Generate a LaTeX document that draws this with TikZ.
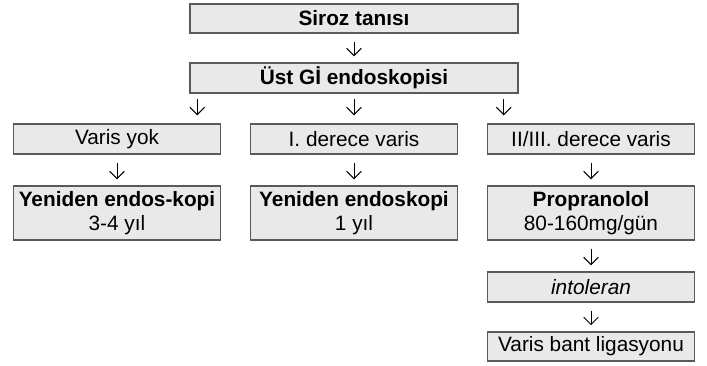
\documentclass[tikz,border=0pt]{standalone}
\usepackage{fontspec}
\setmainfont{Liberation Sans}
\usetikzlibrary{arrows.meta,calc}
\definecolor{boxfill}{RGB}{233,233,233}
\definecolor{boxline}{RGB}{90,90,90}
\begin{document}
\begin{tikzpicture}[x=0.75pt,y=-0.75pt,
  box/.style={draw=boxline,line width=1.1pt,fill=boxfill,inner sep=0pt,
    align=center,font=\fontsize{15.6}{18}\selectfont,text=black},
  wide/.style={box,minimum width=246pt,minimum height=22pt},
  col/.style={box,minimum width=155pt,minimum height=22.5pt},
  tall/.style={box,minimum width=155pt,minimum height=40.5pt},
  arr/.style={line width=0.7pt,-{Straight Barb[length=5.5pt,width=11pt]},
    shorten <=6pt,shorten >=4.5pt}]
\useasboundingbox (0,0) rectangle (707,365);
\node[wide] (siroz) at (354,18.5) {\textbf{Siroz tanısı}};
\node[wide,minimum height=22.5pt] (ust) at (354,78) {\textbf{Üst Gİ endoskopisi}};
\node[col] (r2a) at (117,139) {Varis yok};
\node[col] (r2b) at (354,139) {I. derece varis};
\node[col] (r2c) at (591,139) {II/III. derece varis};
\node[tall] (r3a) at (117,213) {\textbf{Yeniden endos-kopi}\\3-4 yıl};
\node[tall] (r3b) at (354,213) {\textbf{Yeniden endoskopi}\\1 yıl};
\node[tall] (r3c) at (591,213) {\textbf{Propranolol}\\80-160mg/gün};
\node[col] (intol) at (591,287) {\textit{intoleran}};
\node[col,minimum height=22pt] (bant) at (591,346.5) {Varis bant ligasyonu};
\draw[arr] (siroz) -- (ust);
\draw[arr,shorten <=4pt,shorten >=6pt] ([xshift=6pt]ust.south west) -- ([xshift=6pt]ust.south west |- r2a.north);
\draw[arr,shorten <=4pt,shorten >=6pt] (ust) -- (r2b);
\draw[arr,shorten <=4pt,shorten >=6pt] ([xshift=-11.25pt]ust.south east) -- ([xshift=-11.25pt]ust.south east |- r2c.north);
\draw[arr] (r2a) -- (r3a);
\draw[arr] (r2b) -- (r3b);
\draw[arr] (r2c) -- (r3c);
\draw[arr] (r3c) -- (intol);
\draw[arr] (intol) -- (bant);
\end{tikzpicture}
\end{document}
